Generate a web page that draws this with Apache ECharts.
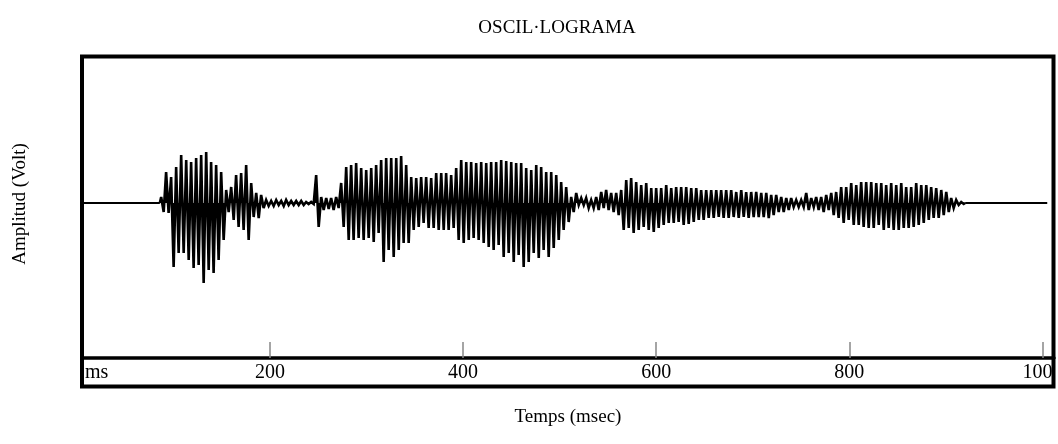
<!DOCTYPE html>
<html>
<head>
<meta charset="utf-8">
<script src="https://cdn.jsdelivr.net/npm/echarts@6/dist/echarts.min.js"></script>
<style>
  html, body { margin: 0; padding: 0; background: #fff; }
  #chart { width: 1058px; height: 444px; }
</style>
</head>
<body>
<div id="chart"></div>
<script>
// oscil·lograma - envolupant llegida de la imatge (pic superior / pic inferior per tram)
var timeTicks = [200, 400, 600, 800, 1000];
var silence = [[0, 0], [86, 0], [920, 0], [1005, 0]];

// instant (ms) de cada tram
var envTime = [
  88.7, 93.8, 99.0, 104.2, 109.4, 114.6, 119.7, 124.9, 130.1, 135.3,
  140.4, 145.6, 150.8, 156.0, 161.2, 166.3, 171.5, 176.7, 181.9, 187.1,
  192.2, 197.4, 202.6, 207.8, 213.0, 218.1, 223.3, 228.5, 233.7, 238.8,
  244.0, 249.2, 254.4, 259.6, 264.7, 269.9, 275.1, 280.3, 285.4, 290.6,
  295.8, 301.0, 306.2, 311.3, 316.5, 321.7, 326.9, 332.1, 337.2, 342.4,
  347.6, 352.8, 357.9, 363.1, 368.3, 373.5, 378.7, 383.8, 389.0, 394.2,
  399.4, 404.6, 409.7, 414.9, 420.1, 425.3, 430.4, 435.6, 440.8, 446.0,
  451.2, 456.3, 461.5, 466.7, 471.9, 477.1, 482.2, 487.4, 492.6, 497.8,
  502.9, 508.1, 513.3, 518.5, 523.7, 528.8, 534.0, 539.2, 544.4, 549.5,
  554.7, 559.9, 565.1, 570.3, 575.4, 580.6, 585.8, 591.0, 596.2, 601.3,
  606.5, 611.7, 616.9, 622.0, 627.2, 632.4, 637.6, 642.8, 647.9, 653.1,
  658.3, 663.5, 668.6, 673.8, 679.0, 684.2, 689.4, 694.5, 699.7, 704.9,
  710.1, 715.3, 720.4, 725.6, 730.8, 736.0, 741.1, 746.3, 751.5, 756.7,
  761.9, 767.0, 772.2, 777.4, 782.6, 787.7, 792.9, 798.1, 803.3, 808.5,
  813.6, 818.8, 824.0, 829.2, 834.4, 839.5, 844.7, 849.9, 855.1, 860.2,
  865.4, 870.6, 875.8, 881.0, 886.1, 891.3, 896.5, 901.7, 906.8, 912.0,
  917.2
];
// pic positiu
var envUpper = [
  6, 31, 26, 36, 48, 43, 41, 45, 48, 51,
  41, 38, 31, 13, 16, 28, 30, 38, 20, 10,
  8, 3, 2, 3, 2, 3, 2, 2, 2, 1,
  1, 28, 6, 5, 5, 6, 20, 36, 38, 40,
  35, 33, 35, 38, 43, 45, 45, 45, 47, 38,
  26, 25, 26, 26, 25, 30, 30, 30, 28, 35,
  43, 41, 41, 40, 41, 40, 41, 41, 43, 42,
  41, 40, 40, 35, 33, 38, 36, 31, 31, 28,
  21, 16, 6, 10, 5, 5, 3, 6, 11, 13,
  10, 10, 13, 23, 25, 21, 18, 20, 15, 15,
  15, 18, 15, 16, 16, 16, 15, 15, 13, 13,
  13, 13, 13, 13, 13, 11, 13, 11, 11, 11,
  10, 10, 8, 8, 6, 5, 5, 3, 3, 10,
  5, 6, 6, 8, 10, 11, 16, 16, 20, 18,
  21, 21, 21, 20, 20, 18, 20, 18, 20, 16,
  16, 20, 18, 18, 16, 15, 13, 11, 5, 3,
  1
];
// pic negatiu
var envLower = [
  -9, -10, -64, -50, -50, -57, -65, -62, -80, -67,
  -70, -57, -37, -9, -17, -24, -27, -37, -14, -15,
  -5, -3, -3, -2, -3, -2, -2, -2, -2, -1,
  -1, -24, -7, -6, -7, -5, -24, -37, -37, -35,
  -37, -35, -39, -30, -59, -47, -54, -47, -40, -40,
  -27, -24, -20, -25, -25, -27, -27, -27, -25, -37,
  -40, -37, -35, -37, -40, -44, -47, -42, -54, -50,
  -59, -52, -64, -59, -50, -55, -47, -54, -45, -37,
  -27, -19, -9, -2, -2, -5, -5, -7, -5, -7,
  -9, -12, -27, -25, -30, -27, -24, -27, -29, -25,
  -22, -20, -20, -19, -22, -21, -19, -17, -17, -15,
  -15, -14, -15, -15, -14, -15, -14, -15, -14, -14,
  -14, -15, -12, -9, -9, -7, -4, -4, -4, -7,
  -4, -7, -9, -7, -12, -15, -20, -17, -22, -22,
  -24, -25, -25, -22, -27, -25, -27, -27, -25, -25,
  -24, -22, -20, -17, -15, -15, -12, -9, -5, -2,
  -1
];

// senyal: zig-zag entre pic positiu i negatiu de cada tram
var wave = [silence[1]];
for (var i = 0; i < envTime.length; i++) {
  wave.push([envTime[i] - 1.3, envUpper[i]]);
  wave.push([envTime[i] + 1.3, envLower[i]]);
}
wave.push(silence[2]);
// trams de silenci (línia plana)
var flat = [silence[0], silence[1], null, silence[2], silence[3]];

var serif = 'Liberation Serif';
var myChart = echarts.init(document.getElementById('chart'), null, {renderer: 'canvas'});
var option = {
  animation: false,
  backgroundColor: '#fff',
  title: {
    text: 'OSCIL·LOGRAMA',
    left: 552,
    textAlign: 'center',
    top: 14,
    textStyle: {fontFamily: serif, fontSize: 19, fontWeight: 'normal', color: '#000'}
  },
  grid: {left: 82, right: 4, top: 56, bottom: 58, show: false, outerBoundsMode: 'none'},
  xAxis: {
    type: 'value',
    min: 5.4,
    max: 1012,
    offset: -28,
    name: 'Temps (msec)',
    nameLocation: 'middle',
    nameGap: 50,
    nameTextStyle: {fontFamily: serif, fontSize: 19, color: '#000'},
    axisLine: {show: true, onZero: false, lineStyle: {color: '#000', width: 3.5}},
    axisTick: {show: true, inside: true, length: 16, customValues: timeTicks,
      lineStyle: {color: '#888', width: 1.5}},
    axisLabel: {customValues: timeTicks, fontFamily: serif, fontSize: 20, color: '#000', margin: 5,
      formatter: function (v) { return String(v); }},
    splitLine: {show: false}
  },
  yAxis: {
    type: 'value',
    min: -183,
    max: 147,
    axisLine: {show: false},
    axisTick: {show: false},
    axisLabel: {show: false},
    splitLine: {show: false}
  },
  graphic: [
    {type: 'rect', z: 100, silent: true,
      shape: {x: 82, y: 56.5, width: 971.5, height: 330},
      style: {fill: 'none', stroke: '#000', lineWidth: 4}},
    {type: 'rect', z: 99, silent: true,
      shape: {x: 1055, y: 359, width: 3, height: 30},
      style: {fill: '#fff'}},
    {type: 'text', z: 100, left: 85, top: 363,
      style: {text: 'ms', font: '20px "Liberation Serif"', fill: '#000'}},
    {type: 'text', z: 100, x: 20, y: 204, rotation: Math.PI / 2,
      style: {text: 'Amplitud (Volt)', font: '19px "Liberation Serif"', fill: '#000',
        align: 'center', verticalAlign: 'middle'}}
  ],
  series: [
    {
      name: 'silenci',
      type: 'line',
      data: flat,
      showSymbol: false,
      connectNulls: false,
      lineStyle: {color: '#000', width: 2},
      clip: true
    },
    {
      name: 'senyal',
      type: 'line',
      data: wave,
      showSymbol: false,
      sampling: null,
      lineStyle: {color: '#000', width: 2.6, join: 'miter', miterLimit: 4},
      areaStyle: {color: '#000', opacity: 1, origin: 'auto'},
      clip: true
    }
  ]
};
myChart.setOption(option);
</script>
</body>
</html>
